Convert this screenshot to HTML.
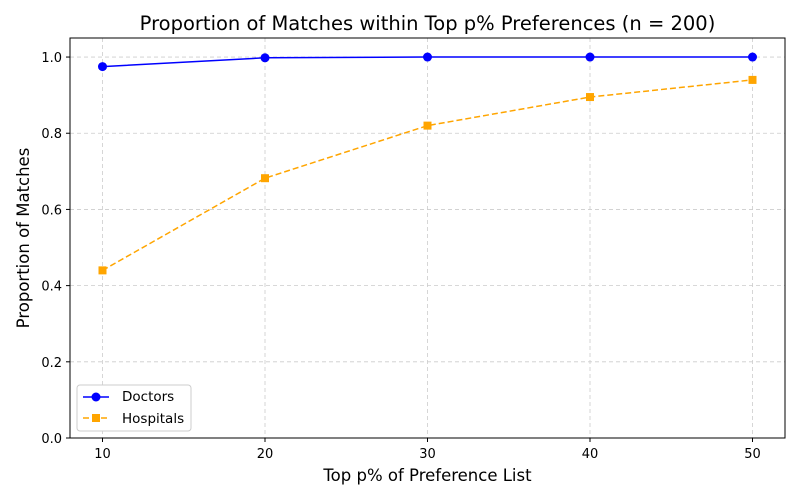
<!DOCTYPE html>
<html><head><meta charset="utf-8"><style>
body{margin:0;background:#fff;}
svg{display:block;font-family:"DejaVu Sans","Liberation Sans",sans-serif;}
</style></head><body>
<svg id="chart" width="800" height="500"></svg>
<script>
const categories=[10,20,30,40,50];
const doctors=[0.975,0.998,1.0,1.0,1.0];
const hospitals=[0.44,0.682,0.82,0.895,0.94];
const xTicks=[10,20,30,40,50];
const yTicks=[0.0,0.2,0.4,0.6,0.8,1.0];
const L=70,R=785,T=38,B=438,xmin=8,xmax=52,ymin=0,ymax=1.05;
const sx=v=>L+(v-xmin)/(xmax-xmin)*(R-L);
const sy=v=>B-(v-ymin)/(ymax-ymin)*(B-T);
const svg=document.getElementById('chart');
const NS='http://www.w3.org/2000/svg';
function mk(t,a,p){const e=document.createElementNS(NS,t);for(const k in a)e.setAttribute(k,a[k]);(p||svg).appendChild(e);return e;}
xTicks.forEach(v=>{
 const g=mk('line',{x1:sx(v),x2:sx(v),y1:T,y2:B,stroke:'#ccc','stroke-dasharray':'4,3','stroke-width':0.8});
 
 
 const t=mk('line',{x1:sx(v),x2:sx(v),y1:B,y2:B+4,stroke:'#000'});
 
 
 const l=mk('text',{x:sx(v),y:B+20,'text-anchor':'middle','font-size':13});
 l.textContent=v;
 
 
});
yTicks.forEach(v=>{
 const g=mk('line',{x1:L,x2:R,y1:sy(v),y2:sy(v),stroke:'#ccc','stroke-dasharray':'4,3','stroke-width':0.8});
 
 
 const t=mk('line',{x1:L-4,x2:L,y1:sy(v),y2:sy(v),stroke:'#000'});
 
 
 const l=mk('text',{x:L-8,y:sy(v)+5,'text-anchor':'end','font-size':13});
 l.textContent=v.toFixed(1);
 
 
});
const frame=mk('rect',{x:L,y:T,width:R-L,height:B-T,fill:'none',stroke:'#000','stroke-width':1});


const pd=d=>d.map((v,i)=>(i?'L':'M')+sx(categories[i])+','+sy(v)).join(' ');
const dl=mk('path',{d:pd(doctors),fill:'none',stroke:'#0000ff','stroke-width':1.5});


doctors.forEach((v,i)=>{const c=mk('circle',{cx:sx(categories[i]),cy:sy(v),r:4.5,fill:'#0000ff'});
 
 });
const hl=mk('path',{d:pd(hospitals),fill:'none',stroke:'#ffa500','stroke-width':1.5,'stroke-dasharray':'6,3'});


hospitals.forEach((v,i)=>{const c=mk('rect',{x:sx(categories[i])-4,y:sy(v)-4,width:8,height:8,fill:'#ffa500'});
 
 });
const ti=mk('text',{x:(L+R)/2,y:30,'text-anchor':'middle','font-size':19.5});
ti.textContent='Proportion of Matches within Top p% Preferences (n = 200)';


const xt=mk('text',{x:(L+R)/2,y:481,'text-anchor':'middle','font-size':16.5});
xt.textContent='Top p% of Preference List';


const yt=mk('text',{x:0,y:0,'text-anchor':'middle','font-size':16.5,transform:'translate(29,238) rotate(-90)'});
yt.textContent='Proportion of Matches';


const lg=mk('g',{});


mk('rect',{x:77,y:385,width:114,height:46,rx:3,fill:'#fff',stroke:'#ccc'},lg);
const e1=mk('g',{},lg);


mk('line',{x1:83,x2:109,y1:397,y2:397,stroke:'#0000ff','stroke-width':1.5},e1);
mk('circle',{cx:96,cy:397,r:4.5,fill:'#0000ff'},e1);
mk('text',{x:122,y:401,'font-size':13.5},e1).textContent='Doctors';
const e2=mk('g',{},lg);


mk('line',{x1:83,x2:109,y1:418,y2:418,stroke:'#ffa500','stroke-width':1.5,'stroke-dasharray':'6,3'},e2);
mk('rect',{x:92,y:414,width:8,height:8,fill:'#ffa500'},e2);
mk('text',{x:122,y:423,'font-size':13.5},e2).textContent='Hospitals';
</script>
</body></html>
